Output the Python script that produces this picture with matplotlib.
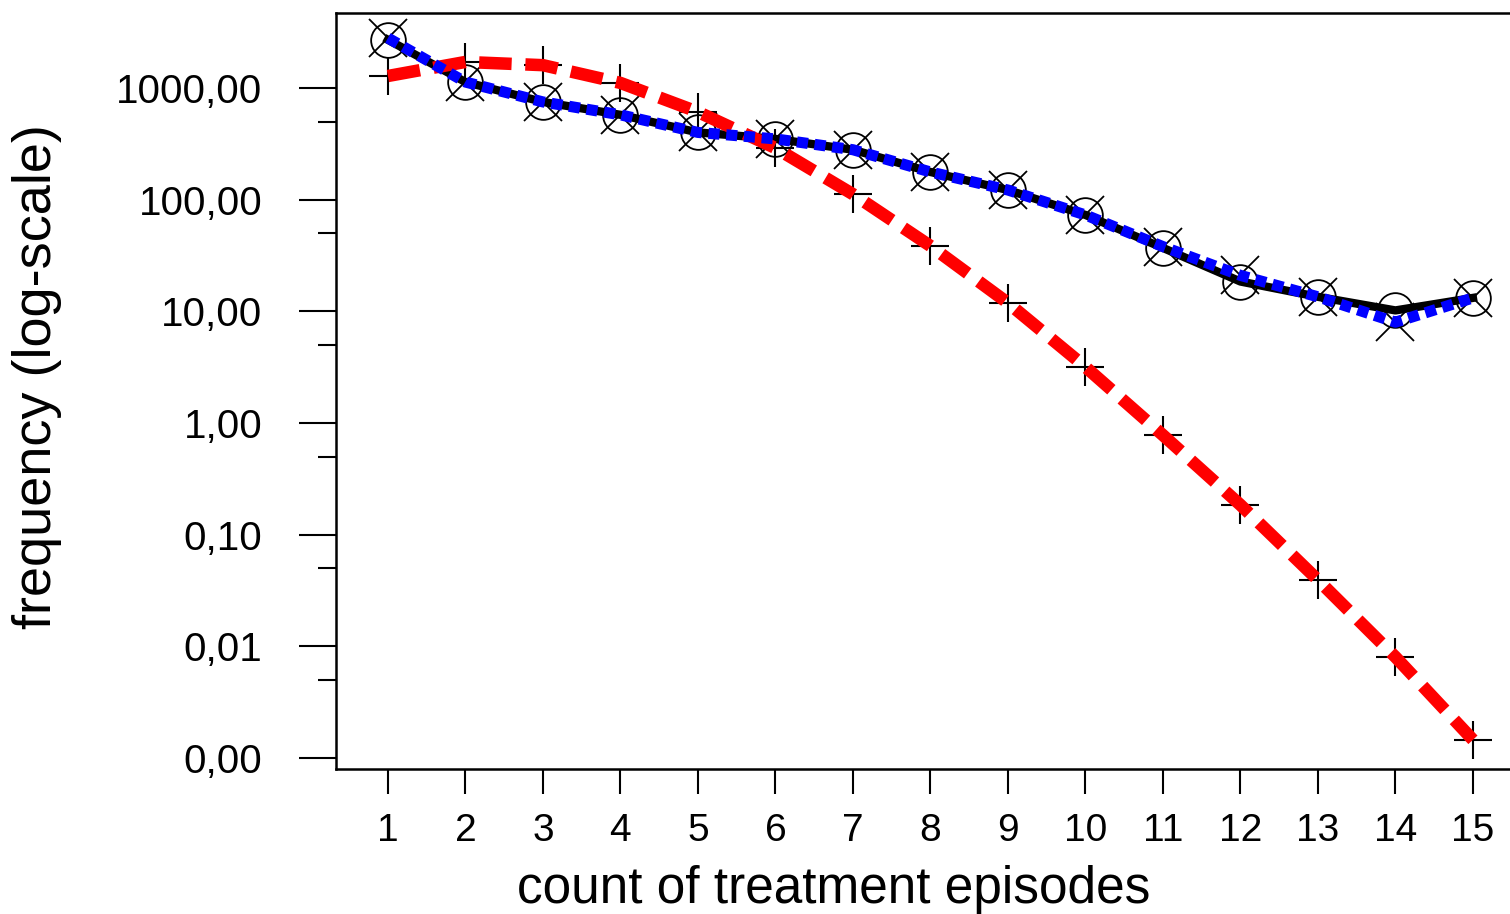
import matplotlib
matplotlib.use("Agg")
import matplotlib.pyplot as plt
from matplotlib.ticker import FixedLocator, FixedFormatter, NullFormatter

# data
episodes = [1, 2, 3, 4, 5, 6, 7, 8, 9, 10, 11, 12, 13, 14, 15]
observed = [2700, 1130, 750, 575, 400, 350, 280, 177, 122, 73, 37, 18.5, 13.5, 10.2, 13.2]
fit_blue = [2800, 1130, 750, 575, 400, 350, 280, 177, 122, 73, 38, 21, 13.5, 8.0, 13.2]
fit_red = [1280, 1710, 1600, 1110, 610, 290, 112, 38.5, 11.9, 3.18, 0.78, 0.185, 0.0394, 0.00805, 0.00146]

ytick_values = [0.001, 0.01, 0.1, 1, 10, 100, 1000]
ytick_labels = ["0,00", "0,01", "0,10", "1,00", "10,00", "100,00", "1000,00"]
yminor_values = [0.005, 0.05, 0.5, 5, 50, 500]

plt.rcParams['font.family'] = ['Liberation Sans', 'DejaVu Sans']

fig = plt.figure(figsize=(15.1, 9.14), dpi=100)
# axes runs past the right edge of the canvas, as in the reference
ax = fig.add_axes([336 / 1510, 1 - 769 / 914, 1200 / 1510, 756 / 914])

# markers first, lines drawn on top of them
ax.plot(episodes, observed, linestyle='none', marker='o', markersize=25,
        markerfacecolor='none', markeredgecolor='black', markeredgewidth=1.3, zorder=2)
ax.plot(episodes, fit_blue, linestyle='none', marker='x', markersize=28,
        markeredgecolor='black', markeredgewidth=1.3, zorder=2)
ax.plot(episodes, fit_red, linestyle='none', marker='+', markersize=28,
        markeredgecolor='black', markeredgewidth=1.5, zorder=2)

ax.plot(episodes, observed, color='black', linewidth=6, zorder=3)
ax.plot(episodes, fit_red, color='red', linewidth=9, linestyle=(0, (2.6, 1.1)), zorder=4)
ax.plot(episodes, fit_blue, color='blue', linewidth=8, linestyle=(0, (1, 0.6)), zorder=5)

ax.set_yscale('log')
ax.set_ylim(0.0008, 4690)
ax.set_xlim(0.33, 0.33 + 1200 / 77.5)

ax.yaxis.set_major_locator(FixedLocator(ytick_values))
ax.yaxis.set_major_formatter(FixedFormatter(ytick_labels))
ax.yaxis.set_minor_locator(FixedLocator(yminor_values))
ax.yaxis.set_minor_formatter(NullFormatter())
ax.set_xticks(episodes)
ax.set_xticklabels([str(e) for e in episodes])

ax.tick_params(axis='y', which='major', length=27, width=1.5, pad=26, labelsize=29)
ax.tick_params(axis='y', which='minor', length=13, width=1.5)
ax.tick_params(axis='x', which='major', length=18, width=1.5, pad=14, labelsize=28)

for side in ['left', 'bottom', 'top']:
    ax.spines[side].set_linewidth(1.8)
ax.spines['right'].set_visible(False)

ax.set_xlabel("count of treatment episodes", fontsize=37)
ax.xaxis.set_label_coords(0.415, -0.127)
ax.set_ylabel("frequency (log-scale)", fontsize=39)
ax.yaxis.set_label_coords(-0.228, 0.5185)

fig.savefig("out.png", dpi=100)
